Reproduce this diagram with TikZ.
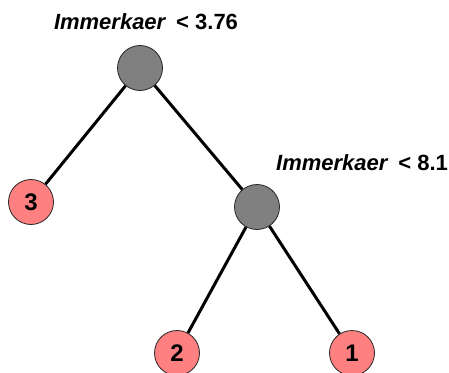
\documentclass[tikz,border=0pt]{standalone}
\usepackage{fontspec}
\setmainfont{Liberation Sans}
\begin{document}
\begin{tikzpicture}[x=1pt,y=-1pt,
  split/.style={circle,draw=black!85,line width=0.8pt,fill=black!50,minimum size=45pt,inner sep=0pt},
  leaf/.style={circle,draw=black!85,line width=0.8pt,fill={rgb,255:red,255;green,128;blue,128},minimum size=45pt,inner sep=0pt,font=\fontsize{24}{24}\selectfont\bfseries},
  edge/.style={line width=3pt,black},
  lbl/.style={font=\fontsize{22}{24}\selectfont\bfseries,inner sep=0pt}]
\useasboundingbox (0,0) rectangle (449,372);
\node[split] (r) at (140,68) {};
\node[leaf] (l3) at (31,202) {3};
\node[split] (m) at (257,207) {};
\node[leaf] (l2) at (177,353) {2};
\node[leaf] (l1) at (352,353) {1};
\node[lbl] (t1) at (146,22) {\textit{Immerkaer}\hspace{0.45em}< 3.76};
\node[lbl] (t2) at (362,163) {\textit{Immerkaer}\hspace{0.45em}< 8.1};
\draw[edge] (r) -- (l3);
\draw[edge] (r) -- (m);
\draw[edge] (m) -- (l2);
\draw[edge] (m) -- (l1);
\end{tikzpicture}
\end{document}
